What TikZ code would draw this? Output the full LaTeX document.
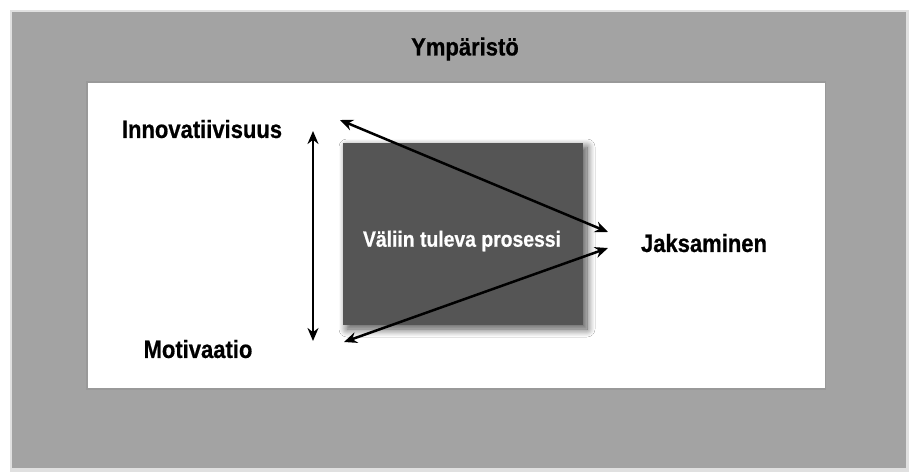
\documentclass[tikz,border=0pt]{standalone}
\usepackage{fontspec}
\newfontfamily\lblfont[FakeStretch=0.88,FakeBold=0.6]{Liberation Sans}
\usetikzlibrary{arrows.meta,shadows.blur}
\definecolor{outergray}{HTML}{A3A3A3}
\definecolor{boxgray}{HTML}{555555}
\tikzset{
  lbl/.style={font=\lblfont\bfseries\fontsize{25}{28}\selectfont, text=black, inner sep=0pt},
  inlbl/.style={font=\lblfont\bfseries\fontsize{22}{26}\selectfont, text=white, inner sep=0pt},
  arr/.style={line width=2.5pt, {Stealth[length=13pt,width=11pt]}-{Stealth[length=13pt,width=11pt]}}
}
\begin{document}
\begin{tikzpicture}[x=1pt,y=-1pt]
\useasboundingbox (0,0) rectangle (913,475);
\fill[white] (0,0) rectangle (913,475);
% outer environment
\fill[black!12] (10,10) rectangle (909,472);
\fill[outergray] (12,12) rectangle (906,468);
% inner white area
\fill[black!40] (86,81) rectangle (826,390);
\fill[white] (88,83) rectangle (825,388);
% intervening process box
\node[fill=boxgray, minimum width=240pt, minimum height=182pt, inner sep=0pt,
      blur shadow={shadow xshift=4pt, shadow yshift=-4pt, shadow blur steps=10, shadow blur radius=8pt, shadow opacity=70}]
      (proc) at (463,234) {};
\node[inlbl] (proctext) at (462,241) {Väliin tuleva prosessi};
% labels
\node[lbl] (ymp) at (465,49) {Ympäristö};
\node[lbl] (inno) at (202,129) {Innovatiivisuus};
\node[lbl] (moti) at (198,349) {Motivaatio};
\node[lbl] (jaks) at (704,243) {Jaksaminen};
% arrow end points
\coordinate (vtop) at (313,131);
\coordinate (vbot) at (313,341);
\coordinate (itop) at (340,120);
\coordinate (jtop) at (608,232);
\coordinate (jbot) at (608,248);
\coordinate (mbot) at (344,342);
\draw[arr] (vtop) -- (vbot);
\draw[arr] (itop) -- (jtop);
\draw[arr] (jbot) -- (mbot);
\end{tikzpicture}
\end{document}
